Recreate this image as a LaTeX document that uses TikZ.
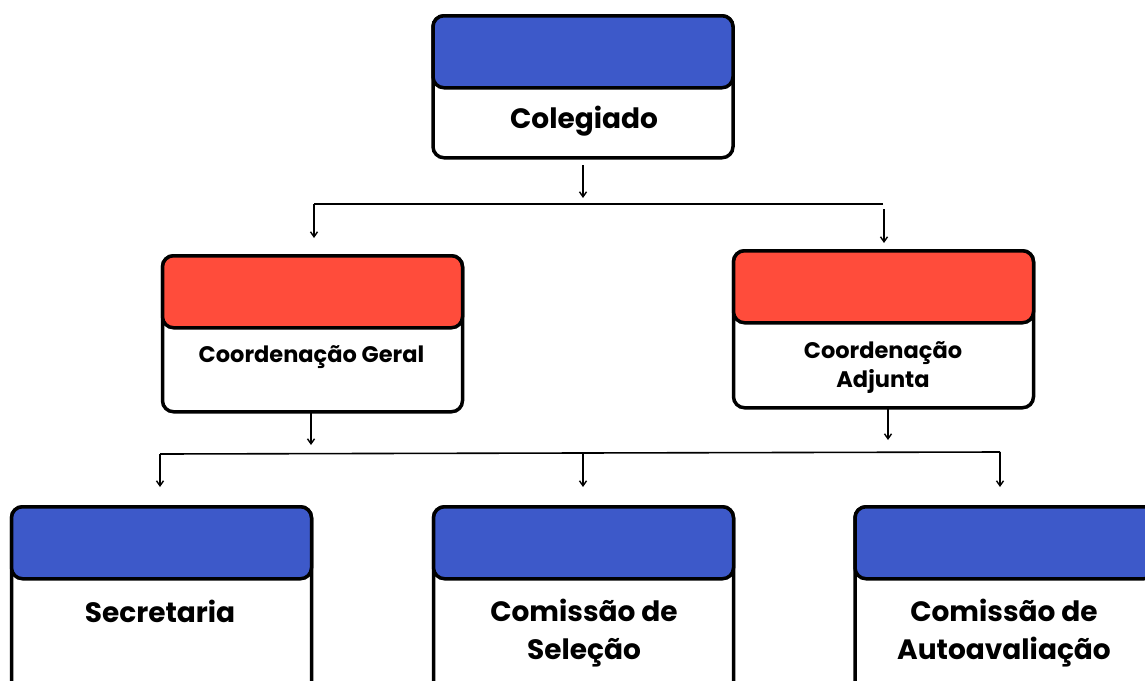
\documentclass[tikz,border=0pt]{standalone}
\usepackage{fontspec}
\setmainfont{Poppins}
\usetikzlibrary{arrows.meta}
\definecolor{hblue}{HTML}{3D59C9}
\definecolor{hred}{HTML}{FF4C3B}
\tikzset{
  box/.style={draw=black, line width=3.5pt, rounded corners=11pt, fill=white, minimum width=300pt, inner sep=0pt},
  head/.style={draw=black, line width=3.5pt, rounded corners=11pt, minimum width=300pt, minimum height=72pt, inner sep=0pt, anchor=north},
  conn/.style={line width=1.6pt, draw=black},
  arr/.style={conn, -{Straight Barb[length=5pt,width=7pt,line width=1.4pt]}},
  bigtxt/.style={font=\fontsize{28}{34}\selectfont\bfseries, align=center},
  midtxt/.style={font=\fontsize{22.5}{29}\selectfont\bfseries, align=center},
  lowtxt/.style={font=\fontsize{28}{38}\selectfont\bfseries, align=center},
}
\begin{document}
\begin{tikzpicture}[x=1pt,y=-1pt]
\useasboundingbox (0,0) rectangle (1145,680);
\clip (0,0) rectangle (1145,680);
% top
\node[box, minimum height=142pt, anchor=north] (col) at (583,14) {};
\node[head, fill=hblue] (colh) at (col.north) {};
\node[bigtxt] (colt) at (584,121) {Colegiado};
% level 2
\node[box, minimum height=156pt, anchor=north] (cg) at (312.5,254) {};
\node[head, fill=hred] (cgh) at (cg.north) {};
\node[midtxt] (cgt) at (311.5,357) {Coordenação Geral};
\node[box, minimum height=157pt, anchor=north] (ca) at (883.5,249) {};
\node[head, fill=hred] (cah) at (ca.north) {};
\node[midtxt] (cat) at (883,368) {Coordenação\\Adjunta};
% level 3
\node[box, minimum height=200pt, anchor=north] (sec) at (161.5,505) {};
\node[head, fill=hblue] (sech) at (sec.north) {};
\node[lowtxt] (sect) at (160,611) {Secretaria};
\node[box, minimum height=200pt, anchor=north] (sel) at (583.5,505) {};
\node[head, fill=hblue] (selh) at (sel.north) {};
\node[lowtxt] (selt) at (584,633) {Comissão de\\Seleção};
\node[box, minimum height=200pt, anchor=north] (aut) at (1005,505) {};
\node[head, fill=hblue] (auth) at (aut.north) {};
\node[lowtxt] (autt) at (1004,633) {Comissão de\\Autoavaliação};
% connectors top
\coordinate (c1a) at (583,165);
\coordinate (c1b) at (583,198);
\coordinate (c2l) at (314,204);
\coordinate (c2r) at (883,204);
\coordinate (c3a) at (884,209);
\draw[arr] (c1a) -- (c1b);
\draw[conn] (c2r) -- (c2l);
\draw[arr] (c2l) -- ([yshift=16pt]c2l |- cg.north);
\draw[arr] (c3a) -- ([yshift=6pt]c3a |- ca.north);
% connectors bottom
\coordinate (d1a) at (311,412);
\coordinate (d2a) at (888,408);
\coordinate (hl) at (160,454);
\coordinate (hm) at (583,453);
\coordinate (hr) at (1000,452);
\draw[arr] (d1a) -- ([yshift=9pt]d1a |- hl);
\draw[arr] (d2a) -- ([yshift=12pt]d2a |- hr);
\draw[conn] (hl) -- (hr);
\draw[arr] (hl) -- ([yshift=18pt]hl |- sec.north);
\draw[arr] (hm) -- ([yshift=18pt]hm |- sel.north);
\draw[arr] (hr) -- ([yshift=18pt]hr |- aut.north);
\end{tikzpicture}
\end{document}
